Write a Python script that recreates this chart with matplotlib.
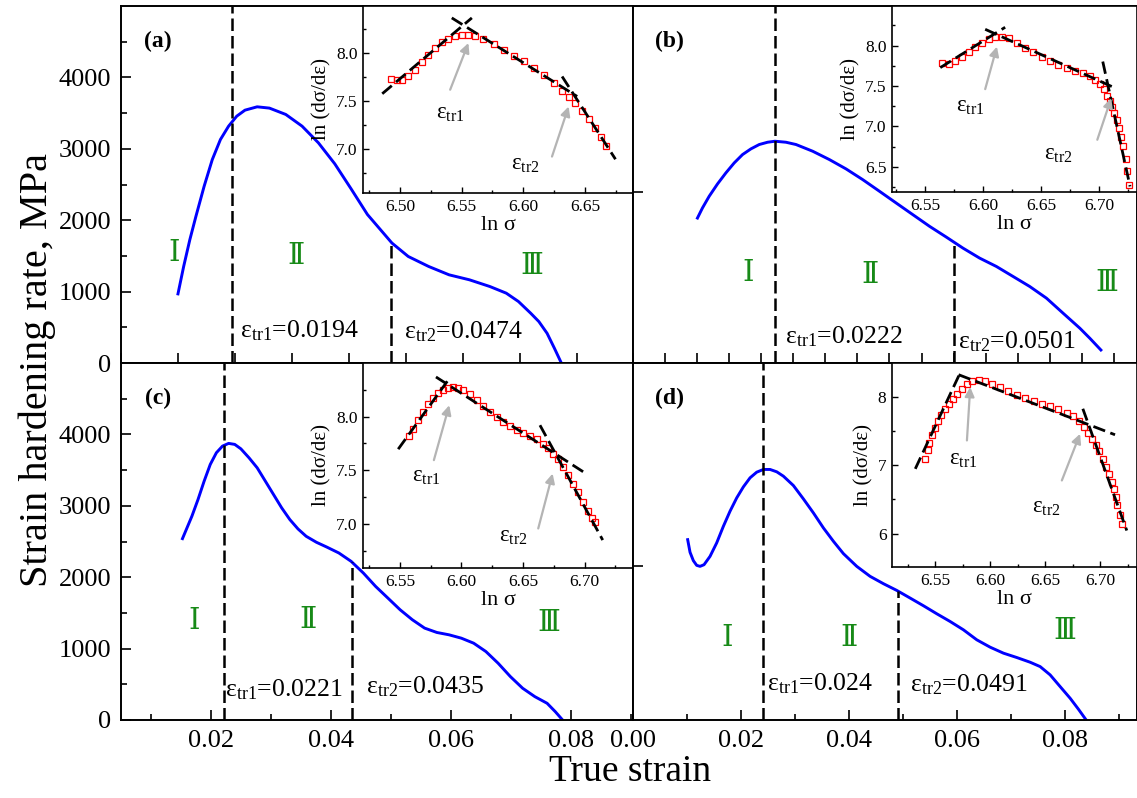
import matplotlib
matplotlib.use("Agg")
import numpy as np
import matplotlib.pyplot as plt
from matplotlib.ticker import MultipleLocator, FixedLocator, FormatStrFormatter

plt.rcParams['font.family'] = ['Liberation Serif', 'DejaVu Serif']
plt.rcParams['mathtext.fontset'] = 'custom'
plt.rcParams['mathtext.rm'] = 'Liberation Serif'
plt.rcParams['mathtext.it'] = 'Liberation Serif:italic'
plt.rcParams['mathtext.bf'] = 'Liberation Serif:bold'

# strain hardening rate (MPa) against true strain, samples (a)-(d)
strain_a = [0.00999, 0.01099, 0.01207, 0.01314, 0.01458, 0.01601, 0.01744, 0.01887, 0.0203, 0.02174,
            0.02388, 0.02603, 0.0289, 0.03176, 0.03463, 0.03749, 0.04035, 0.04322, 0.04752, 0.05038,
            0.05396, 0.05754, 0.06112, 0.0647, 0.06757, 0.06971, 0.07186, 0.07329, 0.07473, 0.07602, 0.07723]
rate_a = [968, 1352, 1726, 2054, 2475, 2849, 3130, 3317, 3457, 3541,
          3588, 3570, 3481, 3317, 3083, 2790, 2440, 2080, 1680, 1492,
          1352, 1235, 1165, 1071, 978, 861, 697, 580, 416, 206, 0]

strain_b = [0.01005, 0.01083, 0.01188, 0.01318, 0.01448, 0.01578, 0.01708, 0.01839, 0.01969, 0.02099,
            0.02214, 0.02385, 0.02542, 0.02802, 0.03063, 0.03323, 0.03583, 0.03844, 0.04104, 0.04365,
            0.04625, 0.04885, 0.05146, 0.05406, 0.05667, 0.05927, 0.06188, 0.06448, 0.06708, 0.06969,
            0.07125, 0.07297]
rate_b = [2030, 2171, 2335, 2508, 2662, 2802, 2919, 2999, 3060, 3092,
          3106, 3092, 3060, 2966, 2849, 2718, 2568, 2405, 2241, 2077,
          1914, 1764, 1609, 1469, 1352, 1212, 1071, 908, 697, 487,
          346, 182]

strain_c = [0.01524, 0.01599, 0.01681, 0.01783, 0.01885, 0.01987, 0.02089, 0.02191, 0.02293, 0.02395,
            0.02497, 0.02633, 0.02769, 0.02905, 0.03041, 0.03177, 0.03313, 0.03449, 0.03585, 0.03756,
            0.03926, 0.0413, 0.04334, 0.04538, 0.04742, 0.04946, 0.0515, 0.05354, 0.05558, 0.05762,
            0.05966, 0.0617, 0.06375, 0.06579, 0.06783, 0.06987, 0.07191, 0.07395, 0.07599, 0.07735, 0.07857]
rate_c = [2540, 2690, 2854, 3088, 3345, 3579, 3743, 3836, 3874, 3860,
          3798, 3672, 3532, 3345, 3158, 2971, 2807, 2676, 2573, 2489,
          2423, 2339, 2222, 2058, 1871, 1708, 1544, 1404, 1287, 1226,
          1193, 1146, 1076, 959, 795, 608, 445, 327, 234, 117, 0]

strain_d = [0.01012, 0.01056, 0.01117, 0.01179, 0.01241, 0.01315, 0.01426, 0.01549, 0.01673, 0.01796,
            0.0192, 0.02043, 0.02167, 0.0229, 0.02414, 0.02537, 0.02661, 0.02784, 0.02969, 0.03154,
            0.03339, 0.03525, 0.0371, 0.03895, 0.04142, 0.04389, 0.04636, 0.04883, 0.0513, 0.05377,
            0.05623, 0.0587, 0.06117, 0.06364, 0.06611, 0.06858, 0.07105, 0.07352, 0.07537, 0.07722,
            0.07907, 0.08093, 0.08247, 0.08389]
rate_d = [2526, 2349, 2232, 2166, 2152, 2175, 2292, 2480, 2713, 2924,
          3111, 3265, 3392, 3471, 3509, 3509, 3476, 3415, 3284, 3097,
          2901, 2690, 2503, 2330, 2152, 2012, 1909, 1815, 1708, 1600,
          1488, 1380, 1263, 1123, 1020, 936, 875, 809, 748, 632,
          468, 304, 150, 0]

# transition strains
eps_tr1 = [0.0194, 0.0222, 0.0221, 0.024]
eps_tr2 = [0.0474, 0.0501, 0.0435, 0.0491]

# ln(dsigma/deps) vs ln(sigma) for the insets
lnsig_a = [6.4924, 6.4973, 6.5014, 6.5068, 6.5122, 6.5176, 6.523, 6.5285, 6.5339, 6.5393,
           6.5447, 6.5501, 6.5555, 6.561, 6.5677, 6.5759, 6.584, 6.5921, 6.6002, 6.6084,
           6.6165, 6.6246, 6.6314, 6.6368, 6.6423, 6.6477, 6.6531, 6.6585, 6.6631, 6.6675]
lnrate_a = [7.731, 7.714, 7.721, 7.763, 7.825, 7.902, 7.982, 8.052, 8.111, 8.149,
            8.178, 8.191, 8.188, 8.173, 8.146, 8.094, 8.034, 7.972, 7.912, 7.843,
            7.773, 7.686, 7.599, 7.54, 7.478, 7.397, 7.31, 7.216, 7.129, 7.034]

lnsig_b = [6.5644, 6.5701, 6.5758, 6.5816, 6.5873, 6.593, 6.5988, 6.6045, 6.6102, 6.616,
           6.6217, 6.6289, 6.6361, 6.6432, 6.6504, 6.6576, 6.6647, 6.6719, 6.6791, 6.6862,
           6.692, 6.6963, 6.7006, 6.7043, 6.7069, 6.7092, 6.7107, 6.7129, 6.715, 6.7167,
           6.7187, 6.7207, 6.7227, 6.7241, 6.7258]
lnrate_b = [7.79, 7.774, 7.815, 7.864, 7.918, 7.98, 8.037, 8.083, 8.107, 8.111,
            8.091, 8.037, 7.975, 7.918, 7.864, 7.811, 7.762, 7.721, 7.691, 7.667,
            7.626, 7.577, 7.523, 7.462, 7.383, 7.321, 7.247, 7.165, 7.083, 6.98,
            6.869, 6.753, 6.601, 6.444, 6.28]

lnsig_c = [6.5573, 6.5608, 6.5649, 6.5689, 6.573, 6.5771, 6.5811, 6.5852, 6.5893, 6.5933,
           6.5974, 6.6015, 6.6069, 6.6124, 6.6177, 6.6232, 6.6286, 6.634, 6.6394, 6.6449,
           6.6502, 6.6557, 6.6611, 6.6665, 6.6706, 6.6746, 6.6787, 6.6828, 6.6868, 6.6909,
           6.695, 6.699, 6.7031, 6.7063, 6.7083]
lnrate_c = [7.821, 7.889, 7.966, 8.044, 8.115, 8.177, 8.22, 8.251, 8.267, 8.273,
            8.267, 8.248, 8.208, 8.152, 8.097, 8.044, 7.997, 7.951, 7.914, 7.879,
            7.849, 7.821, 7.79, 7.749, 7.709, 7.656, 7.604, 7.533, 7.455, 7.377,
            7.294, 7.207, 7.121, 7.059, 7.015]

lnsig_d = [6.5409, 6.543, 6.5445, 6.547, 6.5494, 6.5521, 6.5552, 6.5585, 6.5621, 6.5657,
           6.5697, 6.5743, 6.5788, 6.5834, 6.5894, 6.5955, 6.6015, 6.6091, 6.6166, 6.6243,
           6.6318, 6.6394, 6.647, 6.6545, 6.6621, 6.6697, 6.6757, 6.6809, 6.6857, 6.6894,
           6.693, 6.6961, 6.6994, 6.7024, 6.7052, 6.7082, 6.7106, 6.7124, 6.7143, 6.7157,
           6.7182, 6.7197]
lnrate_d = [7.083, 7.215, 7.327, 7.444, 7.542, 7.64, 7.728, 7.816, 7.898, 7.971,
            8.044, 8.117, 8.19, 8.23, 8.24, 8.225, 8.19, 8.142, 8.083, 8.029,
            7.981, 7.937, 7.898, 7.859, 7.816, 7.766, 7.713, 7.64, 7.556, 7.473,
            7.385, 7.297, 7.201, 7.092, 6.971, 6.873, 6.751, 6.644, 6.531, 6.419,
            6.278, 6.141]

# linear fits of the three stages (end points in ln sigma, ln theta)
fits_a = [((6.4856, 6.5583), (7.575, 8.366)), ((6.542, 6.6437), (8.366, 7.547)),
          ((6.6315, 6.6748), (7.755, 6.892))]
fits_b = [((6.5629, 6.6188), (7.728, 8.227)), ((6.6016, 6.7138), (8.202, 7.474)),
          ((6.7029, 6.7264), (7.803, 6.259))]
fits_c = [((6.5486, 6.5885), (7.697, 8.329)), ((6.5793, 6.699), (8.369, 7.486)),
          ((6.6638, 6.7148), (7.92, 6.851))]
fits_d = [((6.5318, 6.5727), (6.946, 8.351)), ((6.5712, 6.7136), (8.322, 7.444)),
          ((6.6843, 6.7243), (7.824, 6.044))]

panels = [
    dict(tag='(a)', x=strain_a, y=rate_a, lns=lnsig_a, lnr=lnrate_a, fits=fits_a,
         pos=[121, 6, 633, 363], xlim=(0, 0.0898), xmaj=0.01, xmin=None, xlab=False, ylab=True,
         ytick=None, roman=[(0.0094, 1540), (0.0307, 1500), (0.0721, 1360)],
         trtxt=[(0.0209, 365), (0.0497, 350)],
         ipos=[363, 6, 633, 193], ixlim=(6.470, 6.689), iylim=(6.54, 8.49), iymaj=0.5, iyfmt='%.1f',
         arrows=[((6.5407, 7.617), (6.5555, 8.104), (6.5407, 7.373)),
                 ((6.6233, 6.920), (6.6368, 7.442), (6.6016, 6.833))]),
    dict(tag='(b)', x=strain_b, y=rate_b, lns=lnsig_b, lnr=lnrate_b, fits=fits_b,
         pos=[633, 6, 1137, 363], xlim=(0, 0.0786), xmaj=0.005, xmin=None, xlab=False, ylab=False,
         ytick=2390, roman=[(0.018, 1263), (0.037, 1235), (0.0739, 1123)],
         trtxt=[(0.02375, 280), (0.0507, 210)],
         ipos=[892, 6, 1137, 192], ixlim=(6.5213, 6.7324), iylim=(6.19, 8.49), iymaj=0.5, iyfmt='%.1f',
         arrows=[((6.6016, 7.462), (6.6117, 7.988), (6.5887, 7.247)),
                 ((6.6982, 6.836), (6.7102, 7.351), (6.6647, 6.651))]),
    dict(tag='(c)', x=strain_c, y=rate_c, lns=lnsig_c, lnr=lnrate_c, fits=fits_c,
         pos=[121, 363, 633, 720], xlim=(0.005, 0.0903), xmaj=0.02, xmin=0.01, xlab=True, ylab=True,
         ytick=None, roman=[(0.01715, 1380), (0.0362, 1403), (0.0763, 1357)],
         trtxt=[(0.02225, 327), (0.0459, 375)],
         ipos=[363, 363, 633, 568], ixlim=(6.520, 6.7394), iylim=(6.591, 8.499), iymaj=0.5, iyfmt='%.1f',
         arrows=[((6.5776, 7.595), (6.5901, 8.106), (6.5717, 7.44)),
                 ((6.6624, 6.959), (6.6741, 7.47), (6.6421, 6.882))]),
    dict(tag='(d)', x=strain_d, y=rate_d, lns=lnsig_d, lnr=lnrate_d, fits=fits_d,
         pos=[633, 363, 1137, 720], xlim=(0, 0.0933), xmaj=0.02, xmin=0.01, xlab=True, ylab=False,
         ytick=2150, roman=[(0.01735, 1146), (0.0399, 1146), (0.08, 1240)],
         trtxt=[(0.02475, 421), (0.0512, 398)],
         ipos=[892, 363, 1137, 567], ixlim=(6.5106, 6.7336), iylim=(5.511, 8.493), iymaj=1.0, iyfmt='%d',
         arrows=[((6.5788, 7.361), (6.5818, 8.142), (6.5757, 7.083)),
                 ((6.6652, 6.776), (6.6818, 7.458), (6.6515, 6.385))]),
]

W, H = 1137, 798
fig = plt.figure(figsize=(W / 100, H / 100), dpi=100)


def frac(box):
    x0, y0, x1, y1 = box
    return [x0 / W, 1 - y1 / H, (x1 - x0) / W, (y1 - y0) / H]


roman = ['\u2160', '\u2161', '\u2162']
green = '#178a17'

for i, p in enumerate(panels):
    ax = fig.add_axes(frac(p['pos']))
    ax.plot(p['x'], p['y'], color='#0000ff', lw=2.1, solid_joinstyle='round')
    ax.set_xlim(*p['xlim'])
    ax.set_ylim(0, 5000)
    for s in ax.spines.values():
        s.set_linewidth(1.4)

    # transition strain markers
    e1, e2 = eps_tr1[i], eps_tr2[i]
    ax.axvline(e1, color='black', lw=1.8, dashes=(5, 2))
    top2 = np.interp(e2, p['x'], p['y'])
    ax.plot([e2, e2], [0, top2], color='black', lw=1.8, dashes=(5, 2))
    ax.text(p['trtxt'][0][0], p['trtxt'][0][1], r'$\mathregular{ε_{tr1}}$=%g' % e1, fontsize=18.5, va='baseline')
    ax.text(p['trtxt'][1][0], p['trtxt'][1][1], r'$\mathregular{ε_{tr2}}$=%g' % e2, fontsize=18.5, va='baseline')

    for k, (rx, ry) in enumerate(p['roman']):
        ax.text(rx, ry, roman[k], color=green, fontsize=21, ha='center', va='center',
                family=['DejaVu Serif', 'Noto Sans CJK SC'])

    ax.text(0.072, 0.9, p['tag'], transform=ax.transAxes, fontsize=17, fontweight='bold',
            ha='center', va='center')

    ax.xaxis.set_major_locator(MultipleLocator(p['xmaj']))
    if p['xmin']:
        ax.xaxis.set_minor_locator(MultipleLocator(p['xmin']))
    if p['ylab']:
        ax.yaxis.set_major_locator(FixedLocator([0, 1000, 2000, 3000, 4000]))
        ax.yaxis.set_minor_locator(FixedLocator([500, 1500, 2500, 3500, 4500]))
    else:
        ax.set_yticks([p['ytick']])
    ax.tick_params(which='both', direction='in', top=False, right=False, width=1.2,
                   labelsize=19, labelbottom=p['xlab'], labelleft=p['ylab'], pad=7)
    ax.tick_params(which='major', length=7)
    ax.tick_params(which='minor', length=4)
    if p['xlab']:
        ax.xaxis.set_major_formatter(FormatStrFormatter('%.2f'))

    # inset: ln(dsigma/deps) vs ln(sigma)
    ins = fig.add_axes(frac(p['ipos']))
    ins.plot(p['lns'], p['lnr'], ls='none', marker='s', ms=4.4, mfc='none', mec='red', mew=0.9)
    for fx, fy in p['fits']:
        ins.plot(fx, fy, color='black', lw=2.0, dashes=(4.5, 2))
    for tail, head, lab in p['arrows']:
        ins.annotate('', xy=head, xytext=tail,
                     arrowprops=dict(arrowstyle='-|>', color='#b4b4b4', lw=1.6,
                                     mutation_scale=14, shrinkA=0, shrinkB=0))
    ins.text(*p['arrows'][0][2], r'$\mathregular{ε_{tr1}}$', fontsize=16.5, ha='center', va='center')
    ins.text(*p['arrows'][1][2], r'$\mathregular{ε_{tr2}}$', fontsize=16.5, ha='center', va='center')
    ins.set_xlim(*p['ixlim'])
    ins.set_ylim(*p['iylim'])
    ins.xaxis.set_major_locator(MultipleLocator(0.05))
    ins.xaxis.set_minor_locator(MultipleLocator(0.025))
    ins.xaxis.set_major_formatter(FormatStrFormatter('%.2f'))
    ins.yaxis.set_major_locator(MultipleLocator(p['iymaj']))
    ins.yaxis.set_minor_locator(MultipleLocator(p['iymaj'] / 2))
    ins.yaxis.set_major_formatter(FormatStrFormatter(p['iyfmt']))
    ins.tick_params(which='both', direction='in', labelsize=12.5, width=1.0, pad=4)
    ins.tick_params(which='major', length=4)
    ins.tick_params(which='minor', length=2.5)
    for s in ins.spines.values():
        s.set_linewidth(1.2)
    ins.set_xlabel(r'ln σ', fontsize=16, labelpad=1)
    ins.set_ylabel(r'ln (dσ/dε)', fontsize=15, labelpad=3)

fig.text(630 / W, 1 - 772 / H, 'True strain', fontsize=27, ha='center', va='center')
fig.text(37 / W, 1 - 370 / H, 'Strain hardening rate, MPa', fontsize=29, rotation=90,
         ha='center', va='center')

fig.savefig('out.png', dpi=100)
